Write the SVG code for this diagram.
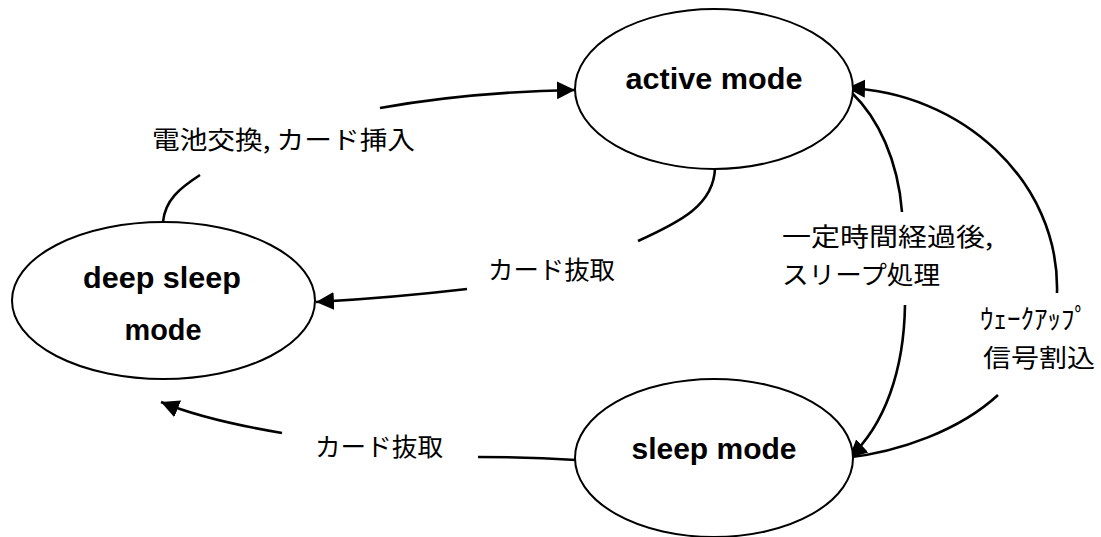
<svg xmlns="http://www.w3.org/2000/svg" width="1101" height="537" viewBox="0 0 1101 537">
<defs>
<style>
.node{fill:#fff;stroke:#000;stroke-width:2}
.nt{font-family:"Liberation Sans",Arial,sans-serif;font-weight:bold;font-size:29px;fill:#000;text-anchor:middle}
.lb{font-family:"Noto Sans CJK JP","Noto Sans",sans-serif;font-size:25px;fill:#000}
.c{fill:none;stroke:#000;stroke-width:2.6}
</style>
<marker id="ah" markerUnits="userSpaceOnUse" markerWidth="20" markerHeight="20" viewBox="0 0 20 20" refX="18" refY="10" orient="auto">
<path d="M0,1 L18,10 L0,19 Z" fill="#000"/>
</marker>
</defs>
<rect width="1101" height="537" fill="#fff"/>
<g id="connectors">
<path class="c" d="M163,222 C165,200 180,188 200,175"/>
<path class="c" d="M380,108 Q470,92 575,90" marker-end="url(#ah)"/>
<path class="c" d="M715,168 C714,205 680,222 638,241"/>
<path class="c" d="M467,289 Q390,298 316,302" marker-end="url(#ah)"/>
<path class="c" d="M576,460 Q530,457 478,457"/>
<path class="c" d="M282,433 Q205,420 161,402" marker-end="url(#ah)"/>
<path class="c" d="M852,93 C878,118 898,160 902,212"/>
<path class="c" d="M905,305 C904,370 885,425 849,458" marker-end="url(#ah)"/>
<path class="c" d="M845,458 C900,452 960,430 998,395"/>
<path class="c" d="M1057,293 C1060,180 960,92 847,88" marker-end="url(#ah)"/>
</g>
<g id="labels">
<text class="lb" x="152" y="149" textLength="263" lengthAdjust="spacingAndGlyphs">電池交換, カード挿入</text>
<text class="lb" x="488" y="279" textLength="127" lengthAdjust="spacingAndGlyphs">カード抜取</text>
<text class="lb" x="315" y="456" textLength="128" lengthAdjust="spacingAndGlyphs">カード抜取</text>
<text class="lb" x="782" y="246" textLength="211" lengthAdjust="spacingAndGlyphs">一定時間経過後,</text>
<text class="lb" x="782" y="284" textLength="158" lengthAdjust="spacingAndGlyphs">スリープ処理</text>
<text class="lb" x="980" y="329" textLength="108" lengthAdjust="spacingAndGlyphs" style="font-size:27px">ｳｪｰｸｱｯﾌﾟ</text>
<text class="lb" x="983" y="367" textLength="112" lengthAdjust="spacingAndGlyphs">信号割込</text>
</g>
<g id="active">
<ellipse class="node" cx="714" cy="89" rx="139" ry="80"/>
<text class="nt" x="714" y="89" textLength="177" lengthAdjust="spacingAndGlyphs">active mode</text>
</g>
<g id="deepsleep">
<ellipse class="node" cx="163.5" cy="300.5" rx="151.5" ry="78.5"/>
<text class="nt" x="162" y="288" textLength="158" lengthAdjust="spacingAndGlyphs">deep sleep</text>
<text class="nt" x="163" y="340" textLength="77" lengthAdjust="spacingAndGlyphs">mode</text>
</g>
<g id="sleep">
<ellipse class="node" cx="714" cy="458" rx="139" ry="79"/>
<text class="nt" x="714" y="459" textLength="165" lengthAdjust="spacingAndGlyphs">sleep mode</text>
</g>
</svg>
